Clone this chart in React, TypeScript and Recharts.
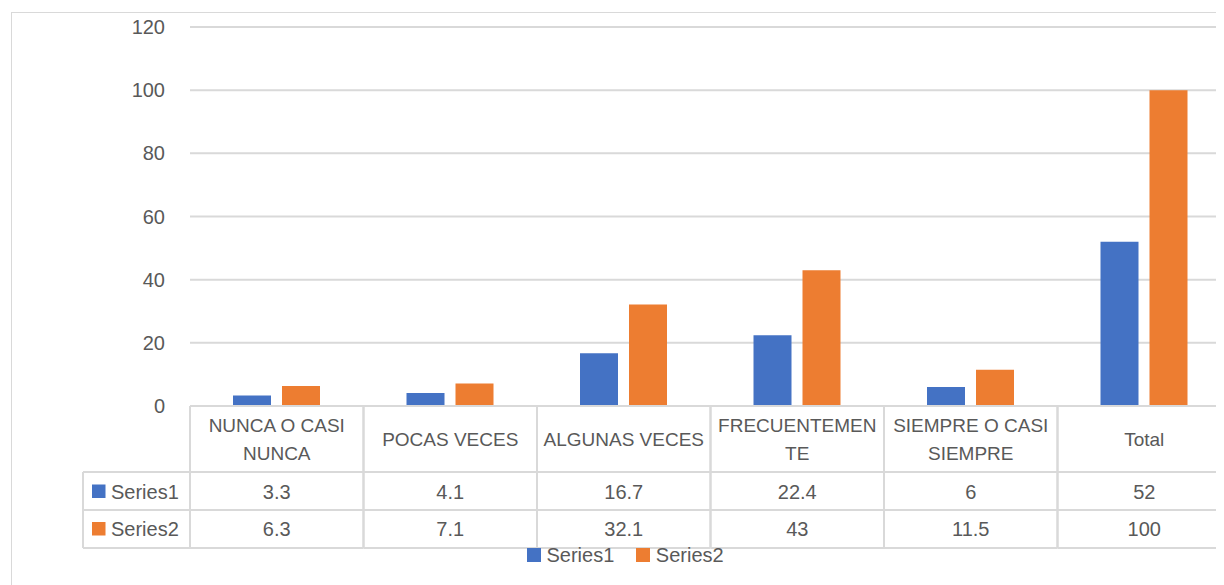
import React from "react";
import { BarChart, Bar, XAxis, YAxis, CartesianGrid } from "recharts";

const categories = [
  "NUNCA O CASI NUNCA",
  "POCAS VECES",
  "ALGUNAS VECES",
  "FRECUENTEMENTE",
  "SIEMPRE O CASI SIEMPRE",
  "Total",
];
// line breaks as they appear in the table header
const categoryLines = [
  ["NUNCA O CASI", "NUNCA"],
  ["POCAS VECES"],
  ["ALGUNAS VECES"],
  ["FRECUENTEMEN", "TE"],
  ["SIEMPRE O CASI", "SIEMPRE"],
  ["Total"],
];
const series1 = [3.3, 4.1, 16.7, 22.4, 6, 52];
const series2 = [6.3, 7.1, 32.1, 43, 11.5, 100];
const seriesNames = ["Series1", "Series2"];
const seriesColors = ["#4472C4", "#ED7D31"];
const yTicks = [0, 20, 40, 60, 80, 100, 120];

const data = categories.map((c, i) => ({ name: c, s1: series1[i], s2: series2[i] }));
const seriesValues = [series1, series2];

const FONT = "'Liberation Sans', Arial, sans-serif";
const TEXT = "#595959";
const LINE = "#d9d9d9";

const CHART_W = 1240;
const CHART_H = 577;
const Y_W = 60;
const MARGIN = { top: 19, right: 17, bottom: 29, left: 122 };
const PLOT_W = CHART_W - MARGIN.left - MARGIN.right - Y_W;
const BAND = PLOT_W / categories.length;

function TableTick(props: any) {
  const { x, y, index } = props;
  const hw = BAND / 2;
  const left = x - hw;
  const right = x + hw;
  const lines = categoryLines[index] || [];
  const rowBottoms = [66, 104, 142];
  const valueCenters = [85.5, 123];
  const txt = { fill: TEXT, fontFamily: FONT, fontSize: 20 };

  return (
    <g>
      <line x1={left} x2={left} y1={y} y2={y + 142} stroke={LINE} strokeWidth={2} />
      <line x1={right} x2={right} y1={y} y2={y + 142} stroke={LINE} strokeWidth={2} />
      {rowBottoms.map((b) => (
        <line key={b} x1={left} x2={right} y1={y + b} y2={y + b} stroke={LINE} strokeWidth={2} />
      ))}
      {lines.map((l, i) => (
        <text
          key={i}
          x={x}
          y={y + (lines.length === 1 ? 33 : 19 + i * 28) + 7}
          textAnchor="middle"
          {...txt}
          fontSize={19}
        >
          {l}
        </text>
      ))}
      {seriesValues.map((vals, si) => (
        <text key={si} x={x} y={y + valueCenters[si] + 7} textAnchor="middle" {...txt}>
          {vals[index]}
        </text>
      ))}
      {index === 0 && (
        <g>
          {rowBottoms.map((b) => (
            <line key={b} x1={left - 107} x2={left} y1={y + b} y2={y + b} stroke={LINE} strokeWidth={2} />
          ))}
          <line x1={left - 107} x2={left - 107} y1={y + 66} y2={y + 142} stroke={LINE} strokeWidth={2} />
          {seriesNames.map((n, si) => (
            <g key={n}>
              <rect
                x={left - 98}
                y={y + valueCenters[si] - 7}
                width={13.5}
                height={13.5}
                fill={seriesColors[si]}
              />
              <text x={left - 79} y={y + valueCenters[si] + 7} {...txt}>
                {n}
              </text>
            </g>
          ))}
        </g>
      )}
    </g>
  );
}

export default function App() {
  return (
    <div style={{ position: "relative", width: 1216, height: 577, overflow: "hidden", background: "#fff" }}>
      <div
        style={{
          position: "absolute",
          left: 3,
          top: 4,
          width: 1230,
          height: 620,
          border: `1px solid ${LINE}`,
          boxSizing: "border-box",
        }}
      />
      <div style={{ position: "absolute", left: 0, top: 0 }}>
        <BarChart
          width={CHART_W}
          height={CHART_H}
          data={data}
          margin={MARGIN}
          barCategoryGap={43}
          barGap={11}
        >
          <CartesianGrid vertical={false} stroke={LINE} strokeWidth={2} />
          <XAxis
            dataKey="name"
            interval={0}
            height={150}
            tickLine={false}
            tickSize={0}
            tickMargin={0}
            axisLine={{ stroke: LINE, strokeWidth: 2 }}
            tick={(p: any) => <TableTick {...p} />}
          />
          <YAxis
            width={Y_W}
            domain={[0, 120]}
            ticks={yTicks}
            axisLine={false}
            tickLine={false}
            tickSize={0}
            tickMargin={25}
            tick={{ fill: TEXT, fontFamily: FONT, fontSize: 20 }}
          />
          <Bar dataKey="s1" name={seriesNames[0]} fill={seriesColors[0]} isAnimationActive={false} />
          <Bar dataKey="s2" name={seriesNames[1]} fill={seriesColors[1]} isAnimationActive={false} />
        </BarChart>
      </div>
      <div
        style={{
          position: "absolute",
          left: 519,
          top: 537,
          display: "flex",
          alignItems: "center",
          fontFamily: FONT,
          fontSize: 20,
          color: TEXT,
          lineHeight: "20px",
        }}
      >
        {seriesNames.map((n, i) => (
          <div key={n} style={{ display: "flex", alignItems: "center", marginRight: 22 }}>
            <div style={{ width: 13.5, height: 13.5, background: seriesColors[i], marginRight: 6 }} />
            <span>{n}</span>
          </div>
        ))}
      </div>
    </div>
  );
}
